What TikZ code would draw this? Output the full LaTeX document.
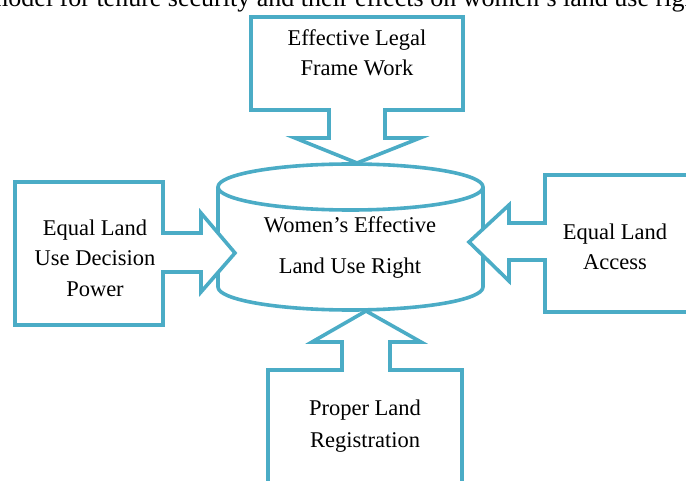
\documentclass[tikz,border=0pt]{standalone}
\usepackage{fontspec}
\setmainfont{Liberation Serif}
\definecolor{landblue}{RGB}{75,172,198}

\begin{document}
\begin{tikzpicture}[x=1pt,y=-1pt,
    outline/.style={draw=landblue, line width=3.6pt, fill=white},
    label/.style={align=center, font=\fontsize{22.5}{30.5}\selectfont}]
            \useasboundingbox (0,0) rectangle (686,481);
            \clip (0,0) rectangle (686,481);
            \node[anchor=base west, inner sep=0pt, font=\fontsize{26}{30}\selectfont] (title) at (-12,7) {model for tenure security and their effects on women's land use right};

            % cylinder in the middle
            \draw[outline] (218,187) -- (218,287) arc [start angle=180, end angle=360, x radius=132.5pt, y radius=23pt] -- (483,187);
            \draw[outline] (350.5,187) ellipse [x radius=132.5pt, y radius=23pt];

            % the four factors pointing at it
            \draw[outline] (251,17) -- (463,17) -- (463,110) -- (385,110) -- (385,138) -- (420,138) -- (357,163)
                -- (295,138) -- (329,138) -- (329,110) -- (251,110) -- cycle;
            \draw[outline] (15,182) -- (163,182) -- (163,233) -- (201,233) -- (201,213) -- (235,253) -- (201,292)
                -- (201,272) -- (163,272) -- (163,325) -- (15,325) -- cycle;
            \draw[outline] (700,175) -- (545,175) -- (545,223) -- (509,223) -- (509,205) -- (469,242) -- (509,281)
                -- (509,260) -- (545,260) -- (545,312) -- (700,312);
            \draw[outline] (268,500) -- (268,370) -- (342,370) -- (342,342) -- (312,342) -- (366,311) -- (421,342)
                -- (390,342) -- (390,370) -- (462,370) -- (462,500);

            \node[label] (legal) at (357,53) {Effective Legal\\Frame Work};
            \node[label] (decision) at (95,258) {Equal Land\\Use Decision\\Power};
            \node[label] (access) at (615,247) {Equal Land\\Access};
            \node[label, font=\fontsize{22.5}{32}\selectfont] (regist) at (365,426) {Proper Land\\Registration};
            \node[label, font=\fontsize{22.5}{41}\selectfont] (women) at (350,248) {Women's Effective\\Land Use Right};
        \end{tikzpicture}
\end{document}
